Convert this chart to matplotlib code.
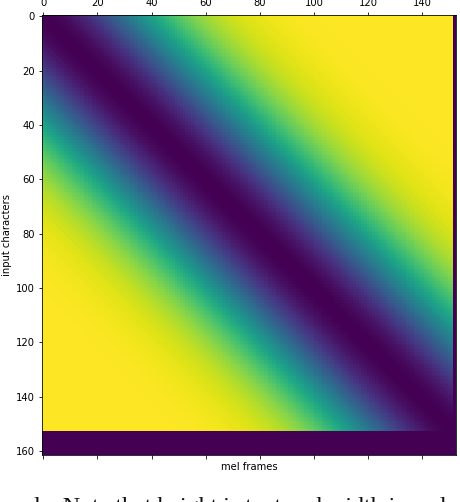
import numpy as np
import matplotlib
matplotlib.use("Agg")
import matplotlib.pyplot as plt

# Guided-attention style matrix (input characters x mel frames), zero padded
n_chars = 153        # valid text positions (rows)
n_frames = 152       # valid mel frames (columns)
pad_rows = 9         # padded text rows (zeros)
pad_cols = 1         # padded mel columns (zeros)
g = 0.2              # width of the diagonal band

x_ticks = [0, 20, 40, 60, 80, 100, 120, 140]
y_ticks = [0, 20, 40, 60, 80, 100, 120, 140, 160]

n = np.arange(n_chars)[:, None] / n_chars
t = np.arange(n_frames)[None, :] / n_frames
W = 1.0 - np.exp(-((n - t) ** 2) / (2 * g * g))
M = np.zeros((n_chars + pad_rows, n_frames + pad_cols))
M[:n_chars, :n_frames] = W

dpi = 72
fig = plt.figure(figsize=(460 / dpi, 502 / dpi), dpi=dpi)
ax = fig.add_axes([42 / 460, 1 - 455 / 502, 414 / 460, 440 / 502])
ax.imshow(M, cmap="viridis", aspect="auto", interpolation="nearest",
          vmin=0, vmax=1, origin="upper")
ax.xaxis.tick_top()
ax.tick_params(axis="x", bottom=True, top=True, labelbottom=False, labeltop=True,
               labelsize=10)
ax.tick_params(axis="y", labelsize=10)
ax.set_xticks(x_ticks)
ax.set_yticks(y_ticks)
ax.set_xlabel("mel frames", fontsize=10)
ax.xaxis.set_label_position("bottom")
ax.set_ylabel("input characters", fontsize=10)

# caption of the source page, cut off by the bottom edge
fig.text(28 / 460, (502 - 513) / 502,
         "de. Note that height is text and width is mel and the padding",
         fontsize=24, family="Liberation Serif", color="#111111",
         ha="left", va="baseline")

fig.savefig("out.png", dpi=dpi)
